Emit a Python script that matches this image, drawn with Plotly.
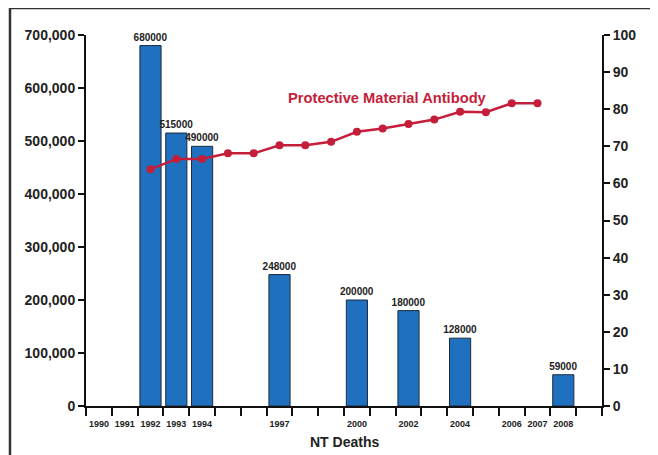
import plotly.graph_objects as go

years = [str(y) for y in range(1990, 2010)]
year_labels = ['1990', '1991', '1992', '1993', '1994', '', '', '1997', '', '', '2000', '',
               '2002', '', '2004', '', '2006', '2007', '2008', '']
bar_years = ['1992', '1993', '1994', '1997', '2000', '2002', '2004', '2008']
nt_deaths = [680000, 515000, 490000, 248000, 200000, 180000, 128000, 59000]
cov_years = [str(y) for y in range(1992, 2008)]
coverage = [63.8, 66.6, 66.6, 68.1, 68.1, 70.3, 70.3, 71.2, 73.9, 74.8, 76.0, 77.2, 79.3, 79.2, 81.6, 81.6]
left_ticks = [0, 100000, 200000, 300000, 400000, 500000, 600000, 700000]
right_ticks = list(range(0, 101, 10))

FONT = "Liberation Sans, Arial, sans-serif"
RED = "#C41E3A"

fig = go.Figure()
fig.add_trace(go.Bar(
    x=bar_years, y=nt_deaths,
    marker=dict(color="#1F70BF", line=dict(color="#1d2b3a", width=1)),
    width=0.82,
    text=[str(v) for v in nt_deaths], textposition="outside", constraintext="none",
    textfont=dict(family=FONT, size=10, color="#222", weight="bold"),
    cliponaxis=False, showlegend=False,
))
fig.add_trace(go.Scatter(
    x=cov_years, y=coverage, yaxis="y2", mode="lines+markers",
    line=dict(color=RED, width=2.5), marker=dict(color=RED, size=8),
    showlegend=False, cliponaxis=False,
))

axis_common = dict(showgrid=False, zeroline=False, showline=True, linewidth=2, linecolor="#111",
                   ticks="outside", tickwidth=2, tickcolor="#111")

fig.update_layout(
    width=650, height=447,
    margin=dict(l=78, r=56, t=27, b=49, autoexpand=False),
    paper_bgcolor="white", plot_bgcolor="white",
    font=dict(family=FONT),
    xaxis=dict(type="category", categoryorder="array", categoryarray=years,
               range=[-0.5, 19.5], tickson="boundaries", tickvals=years, ticktext=year_labels,
               tickangle=0, ticklen=8, ticklabelstandoff=8,
               tickfont=dict(family=FONT, size=9, color="#222", weight="bold"),
               **axis_common),
    yaxis=dict(range=[0, 700000], tickvals=left_ticks, tickformat=",", ticklen=6,
               tickfont=dict(family=FONT, size=14, color="#222", weight="bold"), **axis_common),
    yaxis2=dict(range=[0, 100], tickvals=right_ticks, overlaying="y", side="right", ticklen=6,
                tickfont=dict(family=FONT, size=14, color="#222", weight="bold"), **axis_common),
    annotations=[
        dict(text="Protective Material Antibody", x=0.585, y=0.83, xref="paper", yref="paper",
             xanchor="center", yanchor="middle", showarrow=False,
             font=dict(family=FONT, size=14.7, color=RED, weight="bold")),
        dict(text="NT Deaths", x=0.5, y=-0.097, xref="paper", yref="paper", showarrow=False,
             xanchor="center", yanchor="middle",
             font=dict(family=FONT, size=14, color="#222", weight="bold")),
        dict(text="Coverage (%)", x=1.112, y=0.53, xref="paper", yref="paper", showarrow=False,
             xanchor="center", yanchor="middle", textangle=-90,
             font=dict(family=FONT, size=14, color="#222", weight="bold")),
    ],
    shapes=[dict(type="rect", xref="paper", yref="paper", x0=-0.1473, x1=1.4, y0=-0.5, y1=1.0728,
                 line=dict(color="#333", width=2.5), layer="above")],
)

fig.write_html("out.html")
